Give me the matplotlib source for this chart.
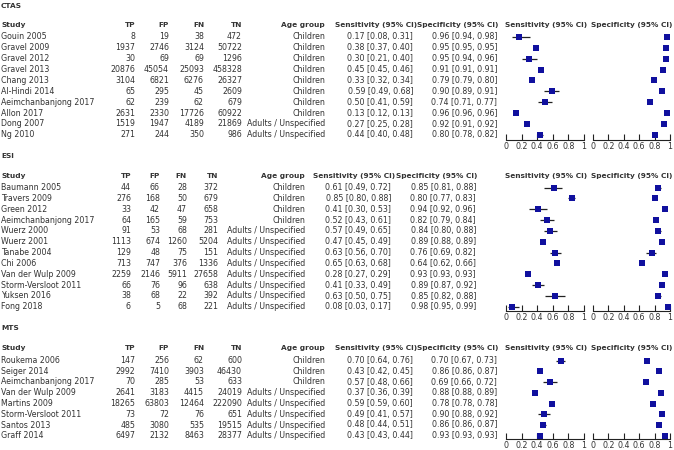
import matplotlib
matplotlib.use("Agg")
import matplotlib.pyplot as plt

# ---- data -------------------------------------------------------------
ctas_study = ["Gouin 2005", "Gravel 2009", "Gravel 2012", "Gravel 2013", "Chang 2013",
              "Al-Hindi 2014", "Aeimchanbanjong 2017", "Allon 2017", "Dong 2007", "Ng 2010"]
ctas_tp = [8, 1937, 30, 20876, 3104, 65, 62, 2631, 1519, 271]
ctas_fp = [19, 2746, 69, 45054, 6821, 295, 239, 2330, 1947, 244]
ctas_fn = [38, 3124, 69, 25093, 6276, 45, 62, 17726, 4189, 350]
ctas_tn = [472, 50722, 1296, 458328, 26327, 2609, 679, 60922, 21869, 986]
ctas_age = ["Children"] * 8 + ["Adults / Unspecified"] * 2
ctas_sens = [0.17, 0.38, 0.30, 0.45, 0.33, 0.59, 0.50, 0.13, 0.27, 0.44]
ctas_sens_lo = [0.08, 0.37, 0.21, 0.45, 0.32, 0.49, 0.41, 0.12, 0.25, 0.40]
ctas_sens_hi = [0.31, 0.40, 0.40, 0.46, 0.34, 0.68, 0.59, 0.13, 0.28, 0.48]
ctas_spec = [0.96, 0.95, 0.95, 0.91, 0.79, 0.90, 0.74, 0.96, 0.92, 0.80]
ctas_spec_lo = [0.94, 0.95, 0.94, 0.91, 0.79, 0.89, 0.71, 0.96, 0.91, 0.78]
ctas_spec_hi = [0.98, 0.95, 0.96, 0.91, 0.80, 0.91, 0.77, 0.96, 0.92, 0.82]

esi_study = ["Baumann 2005", "Travers 2009", "Green 2012", "Aeimchanbanjong 2017", "Wuerz 2000",
             "Wuerz 2001", "Tanabe 2004", "Chi 2006", "Van der Wulp 2009", "Storm-Versloot 2011",
             "Yuksen 2016", "Fong 2018"]
esi_tp = [44, 276, 33, 64, 91, 1113, 129, 713, 2259, 66, 38, 6]
esi_fp = [66, 168, 42, 165, 53, 674, 48, 747, 2146, 76, 68, 5]
esi_fn = [28, 50, 47, 59, 68, 1260, 75, 376, 5911, 96, 22, 68]
esi_tn = [372, 679, 658, 753, 281, 5204, 151, 1336, 27658, 638, 392, 221]
esi_age = ["Children"] * 4 + ["Adults / Unspecified"] * 8
esi_sens = [0.61, 0.85, 0.41, 0.52, 0.57, 0.47, 0.63, 0.65, 0.28, 0.41, 0.63, 0.08]
esi_sens_lo = [0.49, 0.80, 0.30, 0.43, 0.49, 0.45, 0.56, 0.63, 0.27, 0.33, 0.50, 0.03]
esi_sens_hi = [0.72, 0.88, 0.53, 0.61, 0.65, 0.49, 0.70, 0.68, 0.29, 0.49, 0.75, 0.17]
esi_spec = [0.85, 0.80, 0.94, 0.82, 0.84, 0.89, 0.76, 0.64, 0.93, 0.89, 0.85, 0.98]
esi_spec_lo = [0.81, 0.77, 0.92, 0.79, 0.80, 0.88, 0.69, 0.62, 0.93, 0.87, 0.82, 0.95]
esi_spec_hi = [0.88, 0.83, 0.96, 0.84, 0.88, 0.89, 0.82, 0.66, 0.93, 0.92, 0.88, 0.99]

mts_study = ["Roukema 2006", "Seiger 2014", "Aeimchanbanjong 2017", "Van der Wulp 2009",
             "Martins 2009", "Storm-Versloot 2011", "Santos 2013", "Graff 2014"]
mts_tp = [147, 2992, 70, 2641, 18265, 73, 485, 6497]
mts_fp = [256, 7410, 285, 3183, 63803, 72, 3080, 2132]
mts_fn = [62, 3903, 53, 4415, 12464, 76, 535, 8463]
mts_tn = [600, 46430, 633, 24019, 222090, 651, 19515, 28377]
mts_age = ["Children"] * 3 + ["Adults / Unspecified"] * 5
mts_sens = [0.70, 0.43, 0.57, 0.37, 0.59, 0.49, 0.48, 0.43]
mts_sens_lo = [0.64, 0.42, 0.48, 0.36, 0.59, 0.41, 0.44, 0.43]
mts_sens_hi = [0.76, 0.45, 0.66, 0.39, 0.60, 0.57, 0.51, 0.44]
mts_spec = [0.70, 0.86, 0.69, 0.88, 0.78, 0.90, 0.86, 0.93]
mts_spec_lo = [0.67, 0.86, 0.66, 0.88, 0.78, 0.88, 0.86, 0.93]
mts_spec_hi = [0.73, 0.87, 0.72, 0.89, 0.78, 0.92, 0.87, 0.93]

tick_vals = [0, 0.2, 0.4, 0.6, 0.8, 1]
tick_labels = ["0", "0.2", "0.4", "0.6", "0.8", "1"]

# ---- style ------------------------------------------------------------
W, H = 674, 450
FS = 5.7        # body text
FS_B = 5.3      # bold headers
TXT = "#333333"
BLUE = "#10109e"
plt.rcParams["font.family"] = ["DejaVu Sans"]

fig = plt.figure(figsize=(W / 100, H / 100), dpi=100)


def px(x, y):
    return x / W, 1 - y / H


def put(x, y, s, ha="left", bold=False):
    fx, fy = px(x, y)
    fig.text(fx, fy, s, ha=ha, va="center", color=TXT,
             fontsize=FS_B if bold else FS,
             fontweight="bold" if bold else "normal")


def forest(left, right, top, bottom, n, dy, last_y, est, lo, hi):
    # axes whose data y is the row index
    l, b = px(left, bottom)
    ax = fig.add_axes([l, b, (right - left) / W, (bottom - top) / H])
    ax.set_xlim(0, 1)
    ax.set_ylim(n - 1 + (bottom - last_y) / dy, -0.5)
    ax.patch.set_visible(False)
    for s in ["top", "left", "right"]:
        ax.spines[s].set_visible(False)
    ax.spines["bottom"].set_bounds(0, 1)
    ax.spines["bottom"].set_color("#222222")
    ax.spines["bottom"].set_linewidth(0.8)
    ax.set_yticks([])
    ax.set_xticks(tick_vals)
    ax.set_xticklabels(tick_labels)
    ax.tick_params(axis="x", direction="in", length=4, width=0.8, color="#222222",
                   labelsize=FS, labelcolor=TXT, pad=1.5)
    rows = list(range(n))
    ax.hlines(rows, lo, hi, color="#222222", lw=0.9, clip_on=False)
    ax.plot(est, rows, "s", color=BLUE, ms=3.8, mew=0, clip_on=False)
    return ax


def section(name, title_y, head_y, row0, dy, axis_y, cols, study, tp, fp, fn, tn, age,
            sens, sens_lo, sens_hi, spec, spec_lo, spec_hi):
    tp_x, fp_x, fn_x, tn_x, age_x, sens_x, spec_x = cols
    put(1, title_y, name, bold=True)
    put(1, head_y, "Study", bold=True)
    put(tp_x, head_y, "TP", ha="right", bold=True)
    put(fp_x, head_y, "FP", ha="right", bold=True)
    put(fn_x, head_y, "FN", ha="right", bold=True)
    put(tn_x, head_y, "TN", ha="right", bold=True)
    put(age_x, head_y, "Age group", ha="right", bold=True)
    put(sens_x + 4, head_y, "Sensitivity (95% CI)", ha="right", bold=True)
    put(spec_x + 1, head_y, "Specificity (95% CI)", ha="right", bold=True)
    put(546, head_y, "Sensitivity (95% CI)", ha="center", bold=True)
    put(632, head_y, "Specificity (95% CI)", ha="center", bold=True)
    n = len(study)
    for i in range(n):
        y = row0 + i * dy
        put(1, y, study[i])
        put(tp_x, y, str(tp[i]), ha="right")
        put(fp_x, y, str(fp[i]), ha="right")
        put(fn_x, y, str(fn[i]), ha="right")
        put(tn_x, y, str(tn[i]), ha="right")
        put(age_x, y, age[i], ha="right")
        put(sens_x, y, f"{sens[i]:.2f} [{sens_lo[i]:.2f}, {sens_hi[i]:.2f}]", ha="right")
        put(spec_x, y, f"{spec[i]:.2f} [{spec_lo[i]:.2f}, {spec_hi[i]:.2f}]", ha="right")
    last_y = row0 + (n - 1) * dy
    top = row0 - dy / 2
    forest(506, 584, top, axis_y, n, dy, last_y, sens, sens_lo, sens_hi)
    forest(593, 670, top, axis_y, n, dy, last_y, spec, spec_lo, spec_hi)


cols_a = (135, 169, 204, 242, 325, 413, 497)
cols_b = (131, 160, 187, 218, 305, 391, 476)

section("CTAS", 6, 25, 36.8, 10.9, 139.5, cols_a, ctas_study, ctas_tp, ctas_fp, ctas_fn,
        ctas_tn, ctas_age, ctas_sens, ctas_sens_lo, ctas_sens_hi, ctas_spec, ctas_spec_lo,
        ctas_spec_hi)
section("ESI", 156, 176, 187.5, 10.85, 311, cols_b, esi_study, esi_tp, esi_fp, esi_fn,
        esi_tn, esi_age, esi_sens, esi_sens_lo, esi_sens_hi, esi_spec, esi_spec_lo,
        esi_spec_hi)
section("MTS", 328, 348, 360.5, 10.75, 439, cols_a, mts_study, mts_tp, mts_fp, mts_fn,
        mts_tn, mts_age, mts_sens, mts_sens_lo, mts_sens_hi, mts_spec, mts_spec_lo,
        mts_spec_hi)

fig.savefig("out.png", dpi=100, facecolor="white")
